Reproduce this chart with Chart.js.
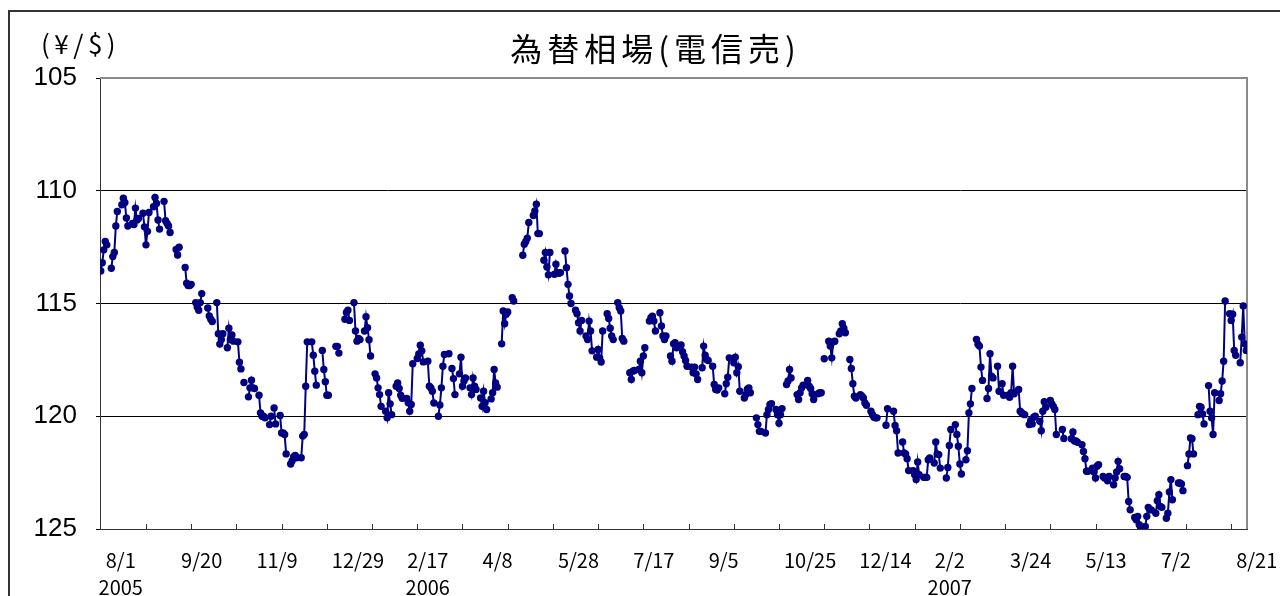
<!DOCTYPE html>
<html><head><meta charset="utf-8">
<script src="https://cdn.jsdelivr.net/npm/chart.js@4.4.0/dist/chart.umd.min.js"></script>
<style>html,body{margin:0;padding:0;background:#fff;overflow:hidden}</style>
</head><body>
<canvas id="c" width="1280" height="596"></canvas>
<script>
// Day 0 = 2005-08-01 (Monday). Values are Mon..Fri of consecutive weeks; null = market holiday.
const titleText = '為替相場(電信売)';
const unitText = '(¥/$)';
const rates2005 = [
  113.56,113.19,112.62,112.25,112.4,
  113.44,112.92,112.74,111.56,110.92,
  110.62,110.33,110.52,111.21,111.56,
  111.45,111.5,110.77,111.3,111.23,
  111.0,111.6,112.4,111.8,110.96,
  110.71,110.3,110.56,111.3,111.7,
  110.47,111.33,111.45,111.56,111.85,
  null,112.6,112.85,112.5,null,
  113.4,114.1,114.2,114.2,114.15,
  114.96,115.15,115.3,114.96,114.56,
  null,115.2,115.55,115.7,115.8,
  114.96,116.34,116.8,116.6,116.34,
  116.96,116.1,116.6,116.4,116.67,
  116.7,117.6,117.9,null,118.5,
  119.14,118.74,118.4,118.74,118.77,
  119.07,119.85,120.0,120.0,120.07,
  120.37,120.0,null,119.63,120.34,
  119.97,120.74,120.74,120.81,121.67,
  122.12,121.97,121.79,121.74,121.84,
  121.84,120.88,120.81,118.67,116.7,
  116.7,117.29,118.0,118.62,null,
  117.08,117.93,118.47,119.07,119.07
];
const rates2006H1 = [
  null,null,116.9,116.9,117.2,
  null,115.7,115.4,115.3,115.75,
  114.96,116.22,116.67,116.55,116.6,
  116.22,115.59,116.07,116.61,117.33,
  118.12,118.3,118.74,119.04,119.56,
  119.78,120.07,118.96,119.45,119.93,
  118.67,118.52,118.77,119.07,119.2,
  119.21,119.4,119.78,119.48,117.67,
  117.44,117.24,116.85,117.1,117.59,
  117.56,118.67,118.74,118.89,119.41,
  120.0,119.5,118.74,117.78,117.26,
  117.23,null,117.88,118.33,119.04,
  118.12,117.38,118.67,118.44,118.3,
  118.74,119.04,118.3,118.67,118.81,
  119.19,119.56,118.89,119.4,119.7,
  119.23,118.96,117.93,118.52,118.71,
  116.79,115.33,115.9,115.48,115.38,
  114.74,114.89,null,null,null,
  112.86,112.37,112.25,112.1,111.41,
  111.1,110.9,110.6,111.9,111.9,
  113.08,112.74,113.38,113.73,112.74,
  113.7,113.26,113.63,113.66,113.63,
  112.67,113.41,114.15,114.67,115.0,
  115.3,115.45,115.85,116.22,115.75,
  116.44,116.6,115.78,116.22,117.1,
  117.38,117.04,117.41,117.59,116.22
];
const rates2006H2 = [
  115.45,115.66,116.1,116.44,116.6,
  114.96,115.19,115.33,116.55,116.67,
  null,118.07,118.37,118.0,117.97,
  117.93,117.56,118.07,117.33,116.96,
  115.78,115.63,115.56,115.78,116.22,
  115.41,116.0,116.44,116.6,116.44,
  117.33,117.56,116.79,116.74,116.96,
  116.84,117.14,117.33,117.53,117.78,
  117.82,118.07,117.82,118.12,118.37,
  117.85,116.89,117.29,117.48,117.53,
  117.78,118.59,118.81,118.84,118.74,
  null,119.0,118.56,118.27,117.41,
  117.63,117.38,118.07,117.8,118.89,
  119.19,119.04,118.8,118.74,118.96,
  null,120.07,120.37,120.67,120.67,
  120.74,119.93,119.7,119.48,119.44,
  119.7,119.93,120.31,119.93,119.66,
  118.59,118.44,117.93,118.3,null,
  119.04,119.26,118.96,118.74,118.62,
  118.41,118.67,118.77,119.0,119.26,
  119.0,118.96,118.96,null,117.45,
  116.67,116.89,117.41,116.71,116.67,
  116.34,116.22,115.9,116.1,116.3,
  117.48,117.88,118.56,119.11,119.19,
  119.04,119.11,119.19,119.41,119.51,
  119.78,119.93,120.04,120.07,120.07
];
const rates2007 = [
  null,null,null,120.4,119.67,
  null,119.78,120.41,120.64,121.63,
  121.14,121.63,121.67,121.88,122.41,
  122.41,122.59,122.81,122.03,122.59,
  122.71,122.71,122.71,121.93,121.85,
  122.07,121.14,121.67,121.7,122.3,
  null,122.74,122.27,121.3,120.59,
  120.37,120.81,121.33,122.12,122.56,
  121.93,121.53,119.85,119.45,118.77,
  116.59,116.81,116.89,117.82,118.41,
  119.21,118.77,117.23,118.22,118.3,
  117.78,118.89,null,118.56,119.07,
  119.07,119.16,118.96,117.78,119.0,
  118.81,119.78,119.85,119.9,119.93,
  120.37,120.19,120.34,120.04,120.0,
  120.22,120.64,119.78,119.36,119.6,
  119.3,119.45,119.56,119.7,120.81,
  null,120.59,120.99,null,null,
  121.0,120.7,121.1,121.1,121.15,
  121.26,121.56,121.88,122.44,122.44,
  122.3,122.47,122.74,122.22,122.15,
  122.67,122.74,122.74,122.86,122.67,
  123.04,122.74,122.47,122.0,122.33,
  122.67,122.67,122.71,123.78,124.15,
  124.49,124.59,124.44,124.81,124.96,
  124.89,124.44,124.04,124.15,124.15,
  124.3,123.75,123.48,124.0,124.04,
  124.52,124.3,123.36,122.81,123.7,
  null,122.96,122.96,123.0,123.3,
  122.19,121.67,120.96,121.0,121.67,
  119.93,119.56,119.6,119.9,120.34,
  118.64,119.78,120.07,120.81,118.96,
  119.3,119.0,118.44,117.56,114.89,
  115.45,115.75,115.48,117.08,117.3,
  117.63,116.49,115.11,116.79,117.08
];
const yTicks = [105,110,115,120,125];
const dateLabels = ['8/1','9/20','11/9','12/29','2/17','4/8','5/28','7/17','9/5','10/25','12/14','2/2','3/24','5/13','7/2','8/21'];
const dateLabelDays = [0,50,100,150,200,250,300,350,400,450,500,550,600,650,700,750];
const yearLabels = ['2005','2006','2007'];
const yearLabelAt = [0,4,11];
const tickStepDays = 30;
const dayRange = [-0.5, 760.5];

const allRates = [].concat(rates2005, rates2006H1, rates2006H2, rates2007);
const points = [];
allRates.forEach((v, i) => {
  const w = Math.floor(i / 5), k = i % 5;
  points.push({x: 7 * w + k, y: v});
  if (k === 4) points.push({x: 7 * w + 5, y: null});
});

const deco = {
  id: 'deco',
  beforeDraw(chart) {
    const ctx = chart.ctx;
    ctx.save();
    ctx.fillStyle = '#fff';
    ctx.fillRect(0, 0, chart.width, chart.height);
    ctx.strokeStyle = '#333';
    ctx.lineWidth = 2;
    ctx.strokeRect(9, 11, 1400, 800);
    ctx.restore();
  },
  beforeDatasetsDraw(chart) {
    const ctx = chart.ctx, a = chart.chartArea, xs = chart.scales.x;
    ctx.save();
    ctx.strokeStyle = '#8a8a8a';
    ctx.lineWidth = 2;
    ctx.beginPath();
    ctx.moveTo(a.left, a.top);
    ctx.lineTo(a.right, a.top);
    ctx.lineTo(a.right, a.bottom);
    ctx.stroke();
    ctx.strokeStyle = '#333';
    ctx.lineWidth = 1;
    for (let d = tickStepDays; d <= dayRange[1]; d += tickStepDays) {
      const x = Math.round(xs.getPixelForValue(d)) + 0.5;
      ctx.beginPath();
      ctx.moveTo(x, a.bottom - 5);
      ctx.lineTo(x, a.bottom);
      ctx.stroke();
    }
    ctx.restore();
  },
  afterDraw(chart) {
    const ctx = chart.ctx, xs = chart.scales.x;
    ctx.save();
    ctx.fillStyle = '#000';
    // title
    ctx.font = '32px "Noto Sans CJK JP"';
    ctx.letterSpacing = '5px';
    ctx.textBaseline = 'middle';
    ctx.textAlign = 'left';
    const tw = ctx.measureText(titleText).width - 5;
    ctx.fillText(titleText, 653 - tw / 2, 49);
    // unit
    ctx.font = '26px "Noto Sans CJK JP"';
    ctx.letterSpacing = '4.5px';
    ctx.fillText(unitText, 41, 44);
    // date labels
    ctx.letterSpacing = '0px';
    ctx.font = '20px "Noto Sans CJK JP"';
    ctx.textBaseline = 'alphabetic';
    const centers = [];
    dateLabels.forEach((t, i) => {
      const x = xs.getPixelForValue(dateLabelDays[i]) + 5;
      ctx.fillText(t, x, 568);
      centers.push(x + ctx.measureText(t).width / 2);
    });
    ctx.textAlign = 'center';
    yearLabels.forEach((t, i) => {
      ctx.fillText(t, centers[yearLabelAt[i]], 595);
    });
    ctx.restore();
  }
};

new Chart(document.getElementById('c'), {
  type: 'line',
  data: {
    datasets: [{
      data: points,
      borderColor: '#000080',
      backgroundColor: '#000080',
      borderWidth: 2,
      pointRadius: 3.7,
      pointBackgroundColor: '#000080',
      pointBorderColor: '#000080',
      pointBorderWidth: 0,
      spanGaps: false,
      tension: 0
    }]
  },
  options: {
    responsive: false,
    animation: false,
    devicePixelRatio: 1,
    layout: {padding: {left: 0, top: 78, right: 33, bottom: 0}},
    plugins: {legend: {display: false}, tooltip: {enabled: false}, title: {display: false}},
    scales: {
      x: {
        type: 'linear', min: dayRange[0], max: dayRange[1],
        ticks: {display: false},
        grid: {display: false, drawTicks: false},
        border: {display: true, color: '#333', width: 1},
        afterFit: s => { s.height = 67; }
      },
      y: {
        reverse: true, min: 105, max: 125,
        afterBuildTicks: s => { s.ticks = yTicks.map(v => ({value: v})); },
        ticks: {font: {family: '"Liberation Sans"', size: 26}, color: '#000', padding: 19},
        grid: {color: '#000', lineWidth: 1, tickLength: 4, drawTicks: true},
        border: {display: true, color: '#333', width: 1},
        afterFit: s => { s.width = 100; }
      }
    }
  },
  plugins: [deco]
});
</script>
</body></html>
